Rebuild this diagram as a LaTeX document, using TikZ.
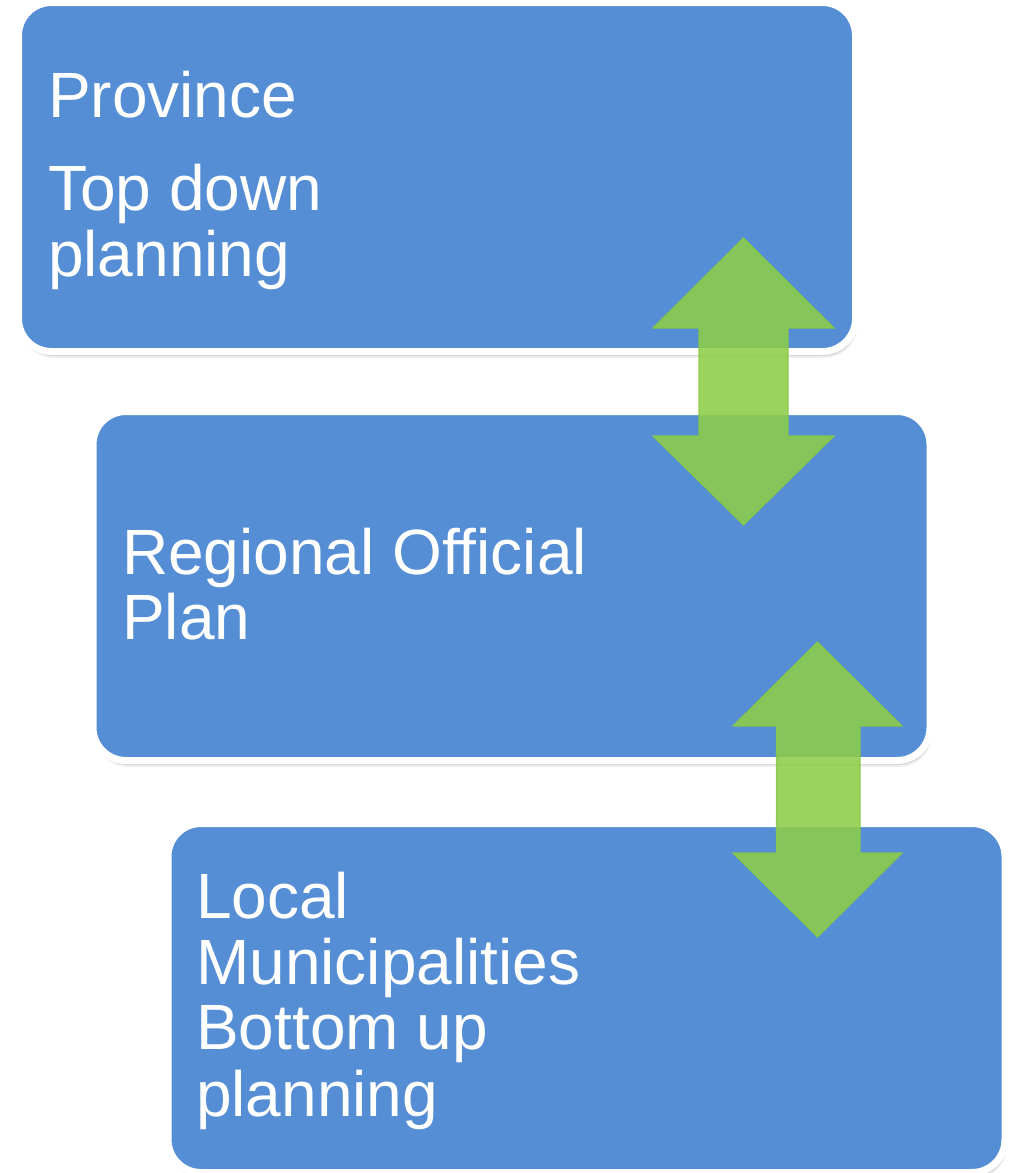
\documentclass[tikz,border=0pt]{standalone}
\usepackage{fontspec}
\setmainfont{Liberation Sans}
\usetikzlibrary{shadows}
\definecolor{boxblue}{RGB}{85,142,213}
\definecolor{arrowgreen}{RGB}{141,205,72}
\definecolor{arrowedge}{RGB}{134,200,70}
\begin{document}
\begin{tikzpicture}[x=1pt,y=-1pt,
  tierbox/.style={rectangle, rounded corners=33pt, fill=boxblue, draw=white,
    line width=7pt, minimum width=837pt, minimum height=349pt, inner sep=0pt,
    drop shadow={shadow xshift=0pt, shadow yshift=-0.5pt, shadow scale=1.005, opacity=0.12, fill=black},
    drop shadow={shadow xshift=1pt, shadow yshift=-2.5pt, opacity=0.16, fill=black},
    drop shadow={shadow xshift=1.5pt, shadow yshift=-4.5pt, opacity=0.12, fill=black},
    drop shadow={shadow xshift=2pt, shadow yshift=-6.5pt, opacity=0.06, fill=black}},
  label/.style={anchor=base west, inner sep=0pt, text=white,
    font=\fontsize{64}{66}\selectfont},
  blockarrow/.style={fill=arrowgreen, fill opacity=0.88, draw=arrowedge,
    draw opacity=0.9, line width=1.2pt, line join=miter}]
\useasboundingbox (0,0) rectangle (1015,1173);

\node[tierbox] (prov) at (437,177) {};
\node[tierbox] (reg) at (511.5,586) {};
\node[tierbox] (loc) at (586.5,998) {};

\node[label] (t1a) at (48,117) {Province};
\node[label] (t1b) at (48,210) {Top down};
\node[label] (t1c) at (48,276) {planning};

\node[label] (t2a) at (122,574) {Regional Official};
\node[label] (t2b) at (122,639) {Plan};

\node[label] (t3a) at (196,918) {Local};
\node[label] (t3b) at (196,984) {Municipalities};
\node[label] (t3c) at (196,1049) {Bottom up};
\node[label] (t3d) at (196,1116) {planning};

% double block arrow between Province and Regional Official Plan
\draw[blockarrow] (743.5,238) -- (834,328) -- (788,328) -- (788,436) -- (834,436)
  -- (743.5,525) -- (653,436) -- (699,436) -- (699,328) -- (653,328) -- cycle;

% double block arrow between Regional Official Plan and Local Municipalities
\draw[blockarrow] (817.5,642) -- (902,726) -- (860,726) -- (860,853) -- (902,853)
  -- (817.5,937) -- (733,853) -- (776.5,853) -- (776.5,726) -- (733,726) -- cycle;
\end{tikzpicture}
\end{document}
